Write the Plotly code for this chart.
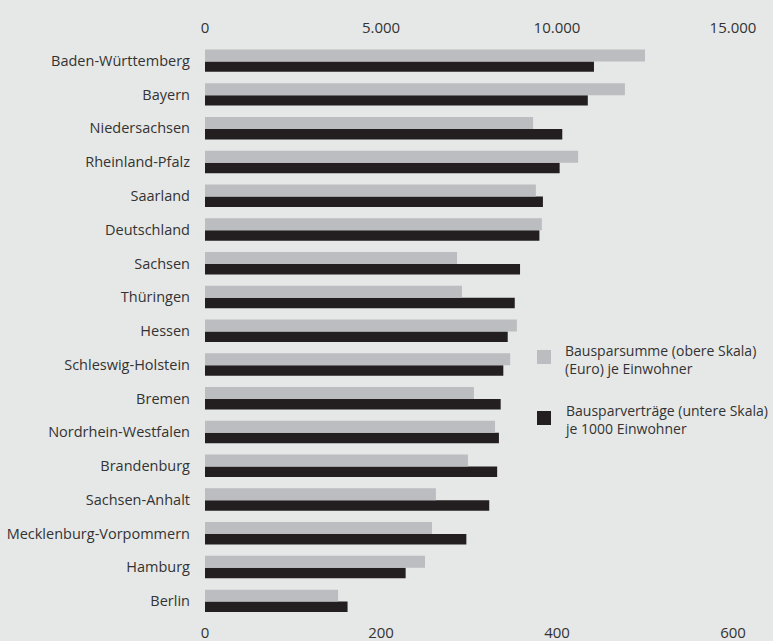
import plotly.graph_objects as go

categories = ["Baden-Württemberg", "Bayern", "Niedersachsen", "Rheinland-Pfalz", "Saarland",
              "Deutschland", "Sachsen", "Thüringen", "Hessen", "Schleswig-Holstein", "Bremen",
              "Nordrhein-Westfalen", "Brandenburg", "Sachsen-Anhalt", "Mecklenburg-Vorpommern",
              "Hamburg", "Berlin"]
bausparsumme = [12500, 11930, 9320, 10600, 9400, 9570, 7160, 7300, 8860, 8670, 7640,
                8240, 7470, 6560, 6450, 6250, 3780]
bausparvertraege = [442, 435, 406, 403, 384, 380, 358, 352, 344, 339, 336, 334, 332, 323,
                    297, 228, 162]
series_names = ["Bausparsumme (obere Skala)<br>(Euro) je Einwohner",
                "Bausparverträge (untere Skala)<br>je 1000 Einwohner"]

top_ticks = [0, 5000, 10000, 15000]
top_labels = ["0", "5.000", "10.000", "15.000"]
bottom_ticks = [0, 200, 400, 600]
bottom_labels = ["0", "200", "400", "600"]

BG = "#e6e8e7"
GRAY = "#bcbdc0"
BLACK = "#231f20"
TXT = "#333333"
FONT = "Open Sans, Noto Sans, sans-serif"

W, H = 773, 641
ML, MR, MT, MB = 205, 40, 44, 23
PW, PH = W - ML - MR, H - MT - MB


def px2paper_x(px):
    return (px - ML) / PW


def px2paper_y(py):
    return (H - MB - py) / PH


fig = go.Figure()
fig.add_trace(go.Bar(
    y=categories, x=bausparsumme, orientation="h", xaxis="x2", yaxis="y",
    marker=dict(color=GRAY, line=dict(width=0)), width=0.355, offset=-0.34,
    name=series_names[0], showlegend=False))
fig.add_trace(go.Bar(
    y=categories, x=bausparvertraege, orientation="h", xaxis="x", yaxis="y",
    marker=dict(color=BLACK, line=dict(width=0)), width=0.31, offset=0.015,
    name=series_names[1], showlegend=False))

# legend (drawn manually so it does not push the margins)
legend_items = [(GRAY, series_names[0], 357, 359), (BLACK, series_names[1], 418, 419.5)]
for color, label, sq_c, txt_c in legend_items:
    fig.add_shape(type="rect", xref="paper", yref="paper",
                  x0=px2paper_x(537), x1=px2paper_x(551),
                  y0=px2paper_y(sq_c + 7), y1=px2paper_y(sq_c - 7),
                  fillcolor=color, line=dict(width=0))
    fig.add_annotation(xref="paper", yref="paper", x=px2paper_x(563), y=px2paper_y(txt_c),
                       xanchor="left", yanchor="middle", align="left", showarrow=False,
                       text=label, font=dict(size=14, color=TXT))

fig.update_layout(
    width=W, height=H,
    paper_bgcolor=BG, plot_bgcolor=BG,
    margin=dict(l=ML, r=MR, t=MT, b=MB),
    font=dict(family=FONT, size=14, color=TXT),
    xaxis=dict(range=[0, 600], tickvals=bottom_ticks, ticktext=bottom_labels,
               showgrid=False, zeroline=False, automargin=False,
               showline=False, ticks="", side="bottom", ticklabelstandoff=4,
               tickfont=dict(size=15, color=TXT)),
    xaxis2=dict(range=[0, 15000], tickvals=top_ticks, ticktext=top_labels,
                overlaying="x", side="top", automargin=False,
                showgrid=False, zeroline=False, showline=False, ticks="",
                ticklabelstandoff=7, tickfont=dict(size=15, color=TXT)),
    yaxis=dict(autorange="reversed", showgrid=False, zeroline=False, showline=False,
               automargin=False, ticks="", ticklabelstandoff=14,
               tickfont=dict(size=14.5, color=TXT)),
    showlegend=False,
)

fig.write_html("out.html", config={"displayModeBar": False},
               post_script="document.body.style.margin='0px';")
